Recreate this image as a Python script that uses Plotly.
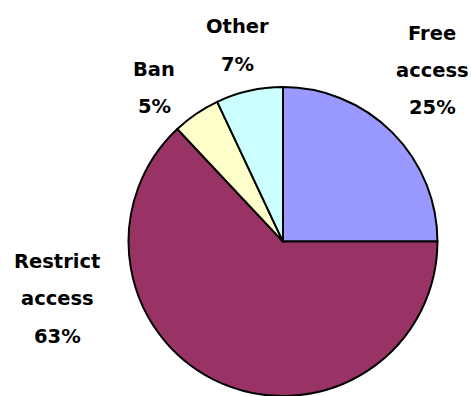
import plotly.graph_objects as go

categories = ["Free access", "Restrict access", "Ban", "Other"]
values = [25, 63, 5, 7]
colors = ["#9999FF", "#993366", "#FFFFCC", "#CCFFFF"]

# label lines and their centre positions (pixels) for the outside labels
label_lines = [["Free", "access", "25%"], ["Restrict", "access", "63%"], ["Ban", "5%"], ["Other", "7%"]]
label_pos = [(432, 33), (57, 261), (154, 69), (237, 27)]
line_gap = 37.5

W, H = 471, 396

fig = go.Figure(go.Pie(
    labels=categories,
    values=values,
    sort=False,
    direction="clockwise",
    rotation=0,
    marker=dict(colors=colors, line=dict(color="black", width=2)),
    textinfo="none",
    hoverinfo="label+percent",
    domain=dict(x=[(283 - 155) / W, (283 + 155) / W], y=[0.0, 0.78]),
    showlegend=False,
))

font = dict(family="DejaVu Sans", size=19.5, color="black", weight="bold")
for lines, (cx, cy) in zip(label_lines, label_pos):
    for i, t in enumerate(lines):
        fig.add_annotation(
            x=cx / W, y=1 - (cy + i * line_gap) / H,
            xref="paper", yref="paper",
            text=f"<b>{t}</b>", showarrow=False,
            xanchor="center", yanchor="middle", font=font,
        )

fig.update_layout(
    width=W, height=H,
    margin=dict(l=0, r=0, t=0, b=0),
    paper_bgcolor="white", plot_bgcolor="white",
)

fig.write_html(
    "out.html",
    config={"displayModeBar": False},
    post_script="document.body.style.margin='0';document.body.style.overflow='hidden';",
)
